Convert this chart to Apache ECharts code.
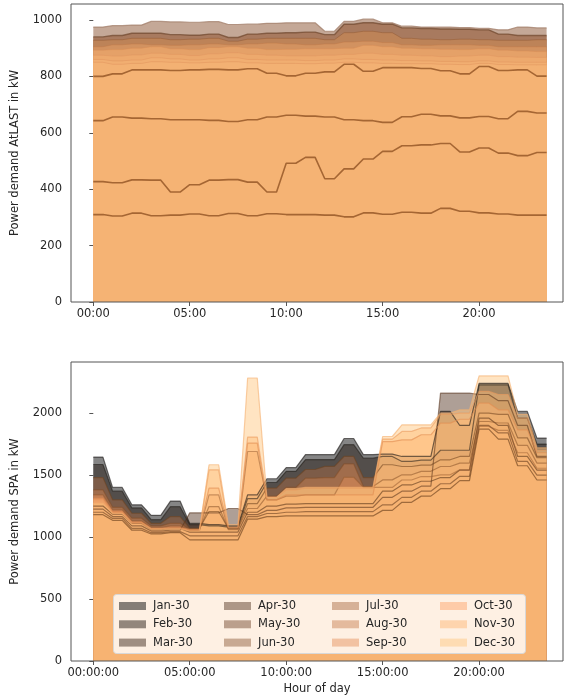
<!DOCTYPE html>
<html>
<head>
<meta charset="utf-8">
<script src="https://cdn.jsdelivr.net/npm/echarts/dist/echarts.min.js"></script>
<style>
html,body{margin:0;padding:0;background:#fff;}
#chart{width:565px;height:698px;}
</style>
</head>
<body>
<div id="chart"></div>
<script>
// ---------- DATA ----------
const months = ['Jan-30','Feb-30','Mar-30','Apr-30','May-30','Jun-30','Jul-30','Aug-30','Sep-30','Oct-30','Nov-30','Dec-30'];
const hourTicks = [0, 5, 10, 15, 20];
const topYTicks = [0, 200, 400, 600, 800, 1000];
const bottomYTicks = [0, 500, 1000, 1500, 2000];

// Top chart: power demand AtLAST (kW), hourly values (each hour held for :00 and :30)
const atlastJan = [975,980,982,995,993,992,994,984,985,988,990,990,960,995,1003,990,978,975,975,973,970,965,975,972];
const atlastFeb = [940,945,953,953,948,946,950,938,950,953,955,957,948,985,990,985,972,970,968,967,965,950,945,945];
const atlastMar = [928,930,935,935,930,932,935,925,932,935,935,935,930,955,960,955,935,932,930,932,930,928,928,930];
const atlastApr = [905,912,915,912,910,912,915,912,915,918,915,912,915,922,925,920,912,910,912,912,910,905,905,905];
const atlastMay = [893,895,900,905,898,895,902,905,900,895,896,898,898,900,910,905,900,898,896,895,898,893,890,888];
const atlastJun = [875,872,876,882,878,874,880,884,878,875,873,873,875,878,882,878,875,873,870,872,875,870,868,867];
const atlastJul = [860,855,858,866,862,858,862,866,860,858,858,856,858,862,860,858,856,855,853,852,855,851,850,850];
const atlastAug = [850,843,846,852,850,848,850,852,848,846,846,845,847,850,848,846,845,845,843,842,846,842,841,841];
const atlastSep = [800,809,823,823,821,823,825,823,827,811,802,811,816,843,818,831,831,828,820,809,835,821,823,801];
const atlastOct = [643,656,652,650,646,646,644,640,646,656,662,659,656,646,643,637,657,666,660,653,658,650,676,670];
const atlastNov = [427,423,433,432,390,416,432,434,425,390,492,513,437,472,507,534,554,557,562,532,546,528,519,530];
const atlastDec = [310,305,315,306,308,312,306,314,306,313,310,310,308,302,316,311,318,315,332,322,316,312,308,308];

// Bottom chart: power demand SPA (kW), hourly values
const spaJan = [1645,1400,1260,1175,1290,1110,1100,1090,1340,1470,1560,1665,1665,1795,1665,1669,1650,1650,2013,1900,2240,2240,2013,1798];
const spaFeb = [1585,1370,1235,1140,1245,1100,1090,1080,1310,1440,1530,1625,1625,1745,1636,1650,1610,1620,1700,1700,2228,2228,1960,1750];
const spaMar = [1250,1185,1110,1060,1070,1040,1040,1040,1200,1250,1265,1270,1270,1270,1270,1370,1420,1450,1480,1540,1960,1900,1650,1540];
const spaApr = [1225,1165,1090,1048,1055,1195,1195,1230,1180,1215,1235,1240,1240,1240,1240,1320,1370,1410,2161,2161,2150,2100,1900,1650];
const spaMay = [1200,1150,1070,1035,1044,1010,1010,1010,1165,1190,1200,1205,1205,1205,1205,1260,1320,1370,1430,1490,1900,1840,1610,1500];
const spaJun = [1180,1135,1055,1025,1035,977,977,977,1145,1165,1170,1170,1170,1170,1170,1215,1280,1330,1390,1455,1870,1790,1575,1460];
const spaJul = [1480,1300,1192,1111,1165,1070,1206,1070,1270,1395,1475,1545,1570,1650,1480,1583,1569,1580,1623,1650,2000,1990,1800,1640];
const spaAug = [1380,1240,1152,1090,1111,1060,1246,1065,1230,1330,1400,1475,1480,1590,1407,1461,1502,1530,1569,1596,1932,1920,1740,1596];
const spaSep = [1340,1220,1130,1075,1090,1050,1340,1060,1690,1300,1330,1340,1340,1482,1400,1400,1460,1488,1502,1542,1892,1860,1680,1555];
const spaOct = [1313,1205,1120,1071,1075,1062,1394,1075,1758,1300,1340,1340,1340,1340,1340,1770,1784,1825,1919,1950,2081,2026,1865,1680];
const spaNov = [1300,1195,1115,1066,1070,1055,1542,1080,1806,1320,1380,1394,1394,1394,1394,1790,1852,1880,1990,2000,2175,2150,1960,1700];
const spaDec = [1273,1190,1105,1062,1066,1048,1583,1100,2283,1320,1390,1400,1400,1400,1400,1811,1905,1905,2000,2026,2300,2300,1990,1720];

const atlastAll = [atlastJan,atlastFeb,atlastMar,atlastApr,atlastMay,atlastJun,atlastJul,atlastAug,atlastSep,atlastOct,atlastNov,atlastDec];
const spaAll = [spaJan,spaFeb,spaMar,spaApr,spaMay,spaJun,spaJul,spaAug,spaSep,spaOct,spaNov,spaDec];

// ---------- STYLES ----------
const copper = [[0,0,0],[29,18,12],[57,36,23],[86,54,35],[115,72,46],[143,91,58],[172,109,69],[200,127,81],[229,145,92],[255,163,104],[255,181,115],[255,199,127]];
const fillAlpha = 0.48;
const topFill = ['#c4a897','#a87a5f','#bd8358','#d29260','#e5a168','#eda96d','#f1ae71','#f3b173','#f5b374','#f5b374','#f5b374','#f5b374'];
const topLine = ['rgba(165,130,110,0.8)','rgba(115,75,50,0.75)','rgba(150,92,55,0.55)','rgba(190,120,70,0.45)','rgba(215,140,85,0.45)','rgba(225,150,95,0.5)','rgba(225,150,95,0.55)','rgba(225,150,95,0.55)','rgba(150,88,40,0.85)','rgba(150,88,40,0.85)','rgba(150,88,40,0.85)','rgba(150,88,40,0.85)'];
const topLineW = [1.2,1.4,1.0,1.0,1.0,1.0,1.0,1.0,1.6,1.6,1.6,1.6];
const spaLine = ['rgba(25,22,20,0.6)','rgba(30,25,20,0.55)','rgba(80,45,20,0.55)','rgba(85,50,25,0.55)','rgba(95,55,25,0.55)','rgba(100,58,25,0.6)','rgba(110,65,30,0.55)','rgba(130,75,35,0.5)','rgba(150,90,45,0.5)','rgba(225,140,80,0.6)','rgba(235,155,95,0.6)','rgba(245,175,110,0.6)'];
const FONT = 'DejaVu Sans';
const TXT = '#262626';
const FRAME = '#555';

function toPoints(arr){
  const pts = [];
  arr.forEach((v,h)=>{ pts.push([h, v]); pts.push([h + 0.5, v]); });
  return pts;
}
function pad(n){ return (n < 10 ? '0' : '') + n; }

const series = [];
// top chart fills
atlastAll.forEach((arr,i)=>{
  series.push({
    name: 'top-' + months[i], type: 'line', xAxisIndex: 0, yAxisIndex: 0,
    data: toPoints(arr), symbol: 'none', silent: true, z: 2,
    lineStyle: {width: 0, opacity: 0},
    areaStyle: {color: topFill[i], opacity: 1},
    emphasis: {disabled: true}
  });
});
atlastAll.forEach((arr,i)=>{
  series.push({
    name: 'topl-' + months[i], type: 'line', xAxisIndex: 0, yAxisIndex: 0,
    data: toPoints(arr), symbol: 'none', silent: true, z: 3,
    lineStyle: {width: topLineW[i], color: topLine[i]},
    emphasis: {disabled: true}
  });
});
// bottom chart fills
spaAll.forEach((arr,i)=>{
  const c = copper[i];
  const col = 'rgba(' + c[0] + ',' + c[1] + ',' + c[2] + ',' + fillAlpha + ')';
  series.push({
    name: months[i], type: 'line', xAxisIndex: 1, yAxisIndex: 1,
    data: toPoints(arr), symbol: 'none', silent: true, z: 2,
    itemStyle: {color: col},
    lineStyle: {width: 0, opacity: 0},
    areaStyle: {color: col, opacity: 1},
    emphasis: {disabled: true}
  });
});
spaAll.forEach((arr,i)=>{
  series.push({
    name: 'spal-' + months[i], type: 'line', xAxisIndex: 1, yAxisIndex: 1,
    data: toPoints(arr), symbol: 'none', silent: true, z: 3,
    lineStyle: {width: 1.2, color: spaLine[i]},
    emphasis: {disabled: true}
  });
});

function xAxisCfg(gridIndex, fmt, name){
  return {
    type: 'value', gridIndex: gridIndex, min: -1.156, max: 24.35,
    axisLine: {show: false}, splitLine: {show: false},
    axisTick: {show: true, length: 4, lineStyle: {color: FRAME}, customValues: hourTicks},
    axisLabel: {show: true, margin: 6, color: TXT, fontFamily: FONT, fontSize: 11.5, customValues: hourTicks, formatter: fmt},
    name: name, nameLocation: 'middle', nameGap: 22,
    nameTextStyle: {color: TXT, fontFamily: FONT, fontSize: 11.5}
  };
}
function yAxisCfg(gridIndex, max, ticks, name){
  return {
    type: 'value', gridIndex: gridIndex, min: 0, max: max,
    axisLine: {show: false}, splitLine: {show: false},
    axisTick: {show: true, length: 4, lineStyle: {color: FRAME}, customValues: ticks},
    axisLabel: {show: true, margin: 9, color: TXT, fontFamily: FONT, fontSize: 11.5, customValues: ticks, formatter: v => String(v)},
    name: name, nameLocation: 'middle', nameGap: 50, nameRotate: 90,
    nameTextStyle: {color: TXT, fontFamily: FONT, fontSize: 11.5}
  };
}

const legendCols = [[0,1,2],[3,4,5],[6,7,8],[9,10,11]];
const legendLefts = [119, 224, 332, 440];
const legends = legendCols.map((idx,k)=>({
  data: idx.map(i=>months[i]),
  orient: 'vertical', left: legendLefts[k], top: 599, padding: 0,
  icon: 'rect', itemWidth: 27, itemHeight: 8, itemGap: 4.3,
  selectedMode: false, z: 10,
  textStyle: {color: TXT, fontFamily: FONT, fontSize: 11.5, lineHeight: 14, padding: [0,0,0,2]}
}));

const option = {
  animation: false,
  backgroundColor: '#ffffff',
  grid: [
    {left: 71, top: 4, width: 492, height: 298, show: true, borderColor: FRAME, borderWidth: 1, backgroundColor: 'transparent', z: 5},
    {left: 71, top: 362, width: 492, height: 299, show: true, borderColor: FRAME, borderWidth: 1, backgroundColor: 'transparent', z: 5}
  ],
  xAxis: [
    xAxisCfg(0, v => pad(v) + ':00', ''),
    xAxisCfg(1, v => pad(v) + ':00:00', 'Hour of day')
  ],
  yAxis: [
    yAxisCfg(0, 1056.7, topYTicks, 'Power demand AtLAST in kW'),
    yAxisCfg(1, 2412, bottomYTicks, 'Power demand SPA in kW')
  ],
  legend: legends,
  graphic: [{
    type: 'rect', z: 8, silent: true,
    shape: {x: 113.5, y: 594.5, width: 412, height: 59, r: 3},
    style: {fill: 'rgba(255,255,255,0.8)', stroke: '#d8d8d8', lineWidth: 1}
  }],
  series: series
};

const chart = echarts.init(document.getElementById('chart'), null, {renderer: 'canvas'});
chart.setOption(option);
</script>
</body>
</html>
